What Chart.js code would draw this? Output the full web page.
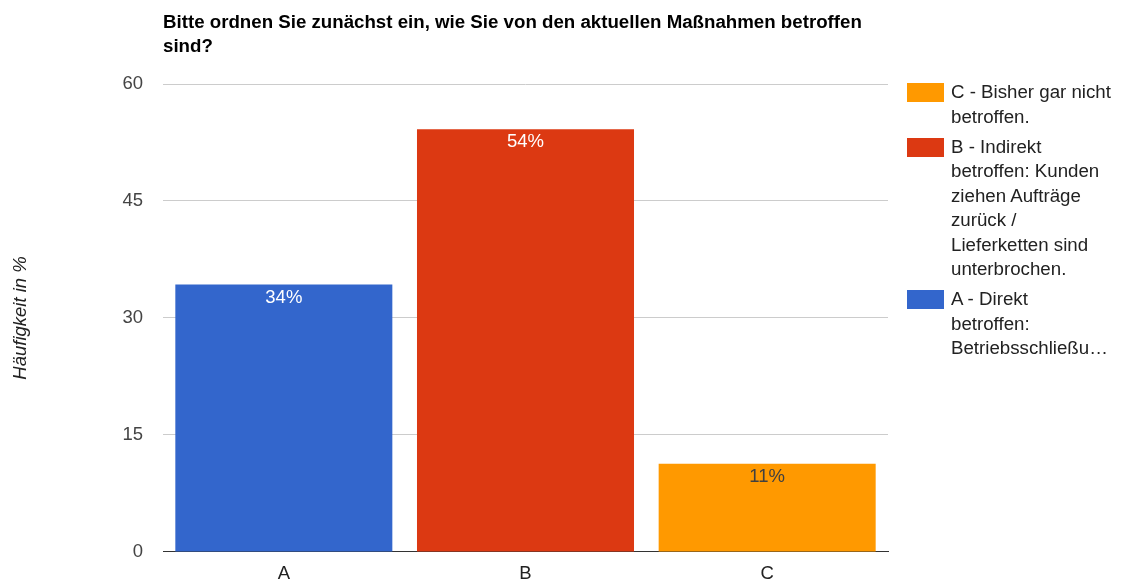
<!DOCTYPE html>
<html>
<head>
<meta charset="utf-8">
<script src="https://cdn.jsdelivr.net/npm/chart.js@4.4.1/dist/chart.umd.min.js"></script>
<style>
  body { margin: 0; background: #fff; font-family: "Liberation Sans", Arial, sans-serif; }
  #wrap { position: relative; width: 1122px; height: 583px; }
  #chart { position: absolute; left: 0; top: 0; }
  #title { position: absolute; left: 163px; top: 10px; font-weight: bold; font-size: 18.7px; line-height: 23.5px; color: #000; white-space: nowrap; }
  #legend { position: absolute; left: 907px; top: 80px; font-size: 18.7px; line-height: 24.5px; color: #222; white-space: nowrap; }
  .item { position: relative; padding-left: 44px; margin-bottom: 5.5px; }
  .sw { position: absolute; left: 0; top: 3px; width: 37px; height: 19px; }
</style>
</head>
<body>
<div id="wrap">
  <canvas id="chart" width="1122" height="583"></canvas>
  <div id="title"></div>
  <div id="legend"></div>
</div>
<script>
const titleLines = ['Bitte ordnen Sie zunächst ein, wie Sie von den aktuellen Maßnahmen betroffen', 'sind?'];
const categories = ['A', 'B', 'C'];
const values = [34.3, 54.2, 11.3];
const valueLabels = ['34%', '54%', '11%'];
const yTicks = [0, 15, 30, 45, 60];
const yTitle = 'Häufigkeit in %';
// legend is listed in reverse order, C first
const legendLines = [
  ['C - Bisher gar nicht', 'betroffen.'],
  ['B - Indirekt', 'betroffen: Kunden', 'ziehen Aufträge', 'zurück /', 'Lieferketten sind', 'unterbrochen.'],
  ['A - Direkt', 'betroffen:', 'Betriebsschließu…']
];

const barColors = ['#3366cc', '#dc3912', '#ff9900'];
const labelColors = ['#ffffff', '#ffffff', '#404040'];
const legendColors = ['#ff9900', '#dc3912', '#3366cc'];
const fontFamily = '"Liberation Sans", Arial, sans-serif';

document.getElementById('title').innerHTML = titleLines.join('<br>');

const legendDiv = document.getElementById('legend');
legendLines.forEach((lines, i) => {
  const item = document.createElement('div');
  item.className = 'item';
  const sw = document.createElement('span');
  sw.className = 'sw';
  sw.style.background = legendColors[i];
  item.appendChild(sw);
  const txt = document.createElement('div');
  txt.innerHTML = lines.join('<br>');
  item.appendChild(txt);
  legendDiv.appendChild(item);
});

// labels inside the top of each bar
const barLabels = {
  id: 'barLabels',
  afterDatasetsDraw(chart) {
    const ctx = chart.ctx;
    const meta = chart.getDatasetMeta(0);
    ctx.save();
    ctx.font = '18.5px ' + fontFamily;
    ctx.textAlign = 'center';
    ctx.textBaseline = 'middle';
    meta.data.forEach((bar, i) => {
      ctx.fillStyle = labelColors[i];
      ctx.fillText(valueLabels[i], bar.x, bar.y + 13);
    });
    ctx.restore();
  }
};

new Chart(document.getElementById('chart'), {
  type: 'bar',
  data: {
    labels: categories,
    datasets: [{
      data: values,
      backgroundColor: barColors,
      borderWidth: 0,
      categoryPercentage: 1,
      barPercentage: 0.898
    }]
  },
  options: {
    responsive: false,
    animation: false,
    layout: { padding: { top: 84, right: 234, left: 0, bottom: 0 } },
    plugins: { legend: { display: false }, tooltip: { enabled: false } },
    scales: {
      x: {
        grid: { display: false, drawTicks: false },
        border: { color: '#333', width: 1 },
        ticks: { color: '#222', font: { size: 18.5, family: fontFamily }, padding: 11 },
        afterFit: s => { s.height = 30.5; }
      },
      y: {
        min: 0,
        max: 60,
        afterBuildTicks: s => { s.ticks = yTicks.map(v => ({ value: v })); },
        grid: { color: c => c.tick && c.tick.value === 0 ? '#333' : '#cccccc', drawTicks: false },
        border: { display: false },
        ticks: { color: '#444', font: { size: 18.5, family: fontFamily }, padding: 20 },
        title: {
          display: true,
          text: yTitle,
          color: '#222',
          font: { size: 18.5, style: 'italic', family: fontFamily },
          padding: { top: 10, bottom: 0 }
        },
        afterFit: s => { s.width = 163; }
      }
    }
  },
  plugins: [barLabels]
});
</script>
</body>
</html>
